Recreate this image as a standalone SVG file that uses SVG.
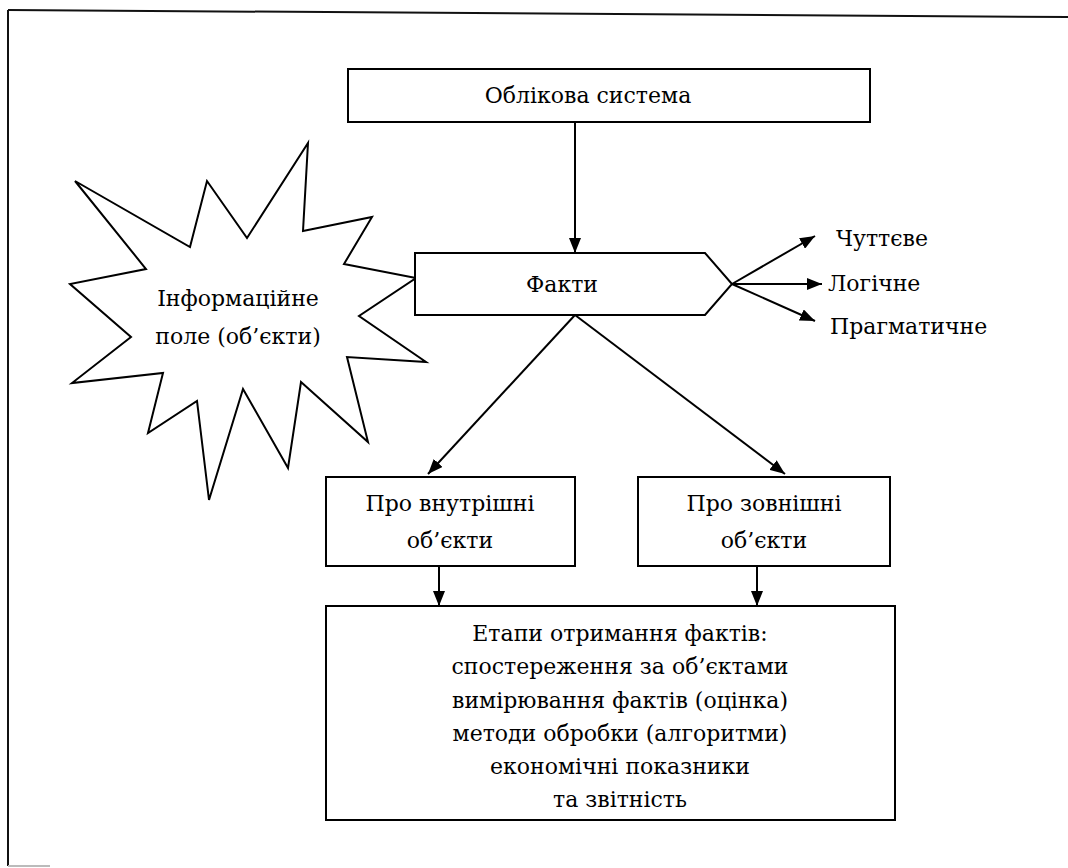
<svg xmlns="http://www.w3.org/2000/svg" width="1068" height="868" viewBox="0 0 1068 868">
<style>
.box{fill:#fff;stroke:#000;stroke-width:2}
.t{font-family:"DejaVu Serif","Liberation Serif",serif;font-size:22px;fill:#000}
.c{text-anchor:middle}
.ln{stroke:#000;stroke-width:2;fill:none}
</style>
<defs>
<marker id="ah" viewBox="0 0 15 12" refX="15" refY="6" markerWidth="15" markerHeight="12" markerUnits="userSpaceOnUse" orient="auto">
<path d="M0,0 L15,6 L0,12 Z" fill="#000"/>
</marker>
</defs>
<rect width="1068" height="868" fill="#fff"/>
<g id="frame">
<line x1="8" y1="10" x2="1068" y2="17" stroke="#111" stroke-width="2"/>
<line x1="8" y1="10" x2="8" y2="866" stroke="#111" stroke-width="2"/>
<line x1="8" y1="866" x2="50" y2="866" stroke="#bbb" stroke-width="2"/>
</g>
<g id="connectors">
<line class="ln" x1="575" y1="122" x2="575" y2="253" marker-end="url(#ah)"/>
<line class="ln" x1="732" y1="284" x2="815" y2="236" marker-end="url(#ah)"/>
<line class="ln" x1="732" y1="284" x2="822" y2="284" marker-end="url(#ah)"/>
<line class="ln" x1="732" y1="284" x2="815" y2="321" marker-end="url(#ah)"/>
<line class="ln" x1="575" y1="315" x2="428" y2="474" marker-end="url(#ah)"/>
<line class="ln" x1="575" y1="315" x2="785" y2="474" marker-end="url(#ah)"/>
<line class="ln" x1="439" y1="566" x2="439" y2="606" marker-end="url(#ah)"/>
<line class="ln" x1="757" y1="566" x2="757" y2="606" marker-end="url(#ah)"/>
</g>
<g id="node-oblik">
<rect class="box" x="348" y="69" width="522" height="53"/>
<text class="t c" x="588" y="103">Облікова система</text>
</g>
<g id="node-info">
<polygon class="box" points="75,181 190,247 207,181 247,238 308,143 303,231 372,217 344,264 416,278 359,316 426,362 347,357 368,442 301,382 288,468 243,389 209,500 197,401 148,433 163,373 72,383 131,337 70,284 146,269"/>
<text class="t c" x="238" y="306">Інформаційне</text>
<text class="t c" x="238" y="344">поле (об’єкти)</text>
</g>
<g id="node-fakty">
<polygon class="box" points="415,253 705,253 732,284 705,315 415,315"/>
<text class="t c" x="562" y="292">Факти</text>
</g>
<g id="labels">
<text class="t" x="836" y="246">Чуттєве</text>
<text class="t" x="828" y="291">Логічне</text>
<text class="t" x="830" y="334">Прагматичне</text>
</g>
<g id="node-inner">
<rect class="box" x="326" y="477" width="249" height="89"/>
<text class="t c" x="450" y="511">Про внутрішні</text>
<text class="t c" x="450" y="548">об’єкти</text>
</g>
<g id="node-outer">
<rect class="box" x="638" y="477" width="252" height="89"/>
<text class="t c" x="764" y="511">Про зовнішні</text>
<text class="t c" x="764" y="548">об’єкти</text>
</g>
<g id="node-etapy">
<rect class="box" x="326" y="606" width="569" height="214"/>
<text class="t c" x="620" y="641">Етапи отримання фактів:</text>
<text class="t c" x="620" y="674">спостереження за об’єктами</text>
<text class="t c" x="620" y="708">вимірювання фактів (оцінка)</text>
<text class="t c" x="620" y="741">методи обробки (алгоритми)</text>
<text class="t c" x="620" y="774">економічні показники</text>
<text class="t c" x="620" y="807">та звітність</text>
</g>
</svg>
